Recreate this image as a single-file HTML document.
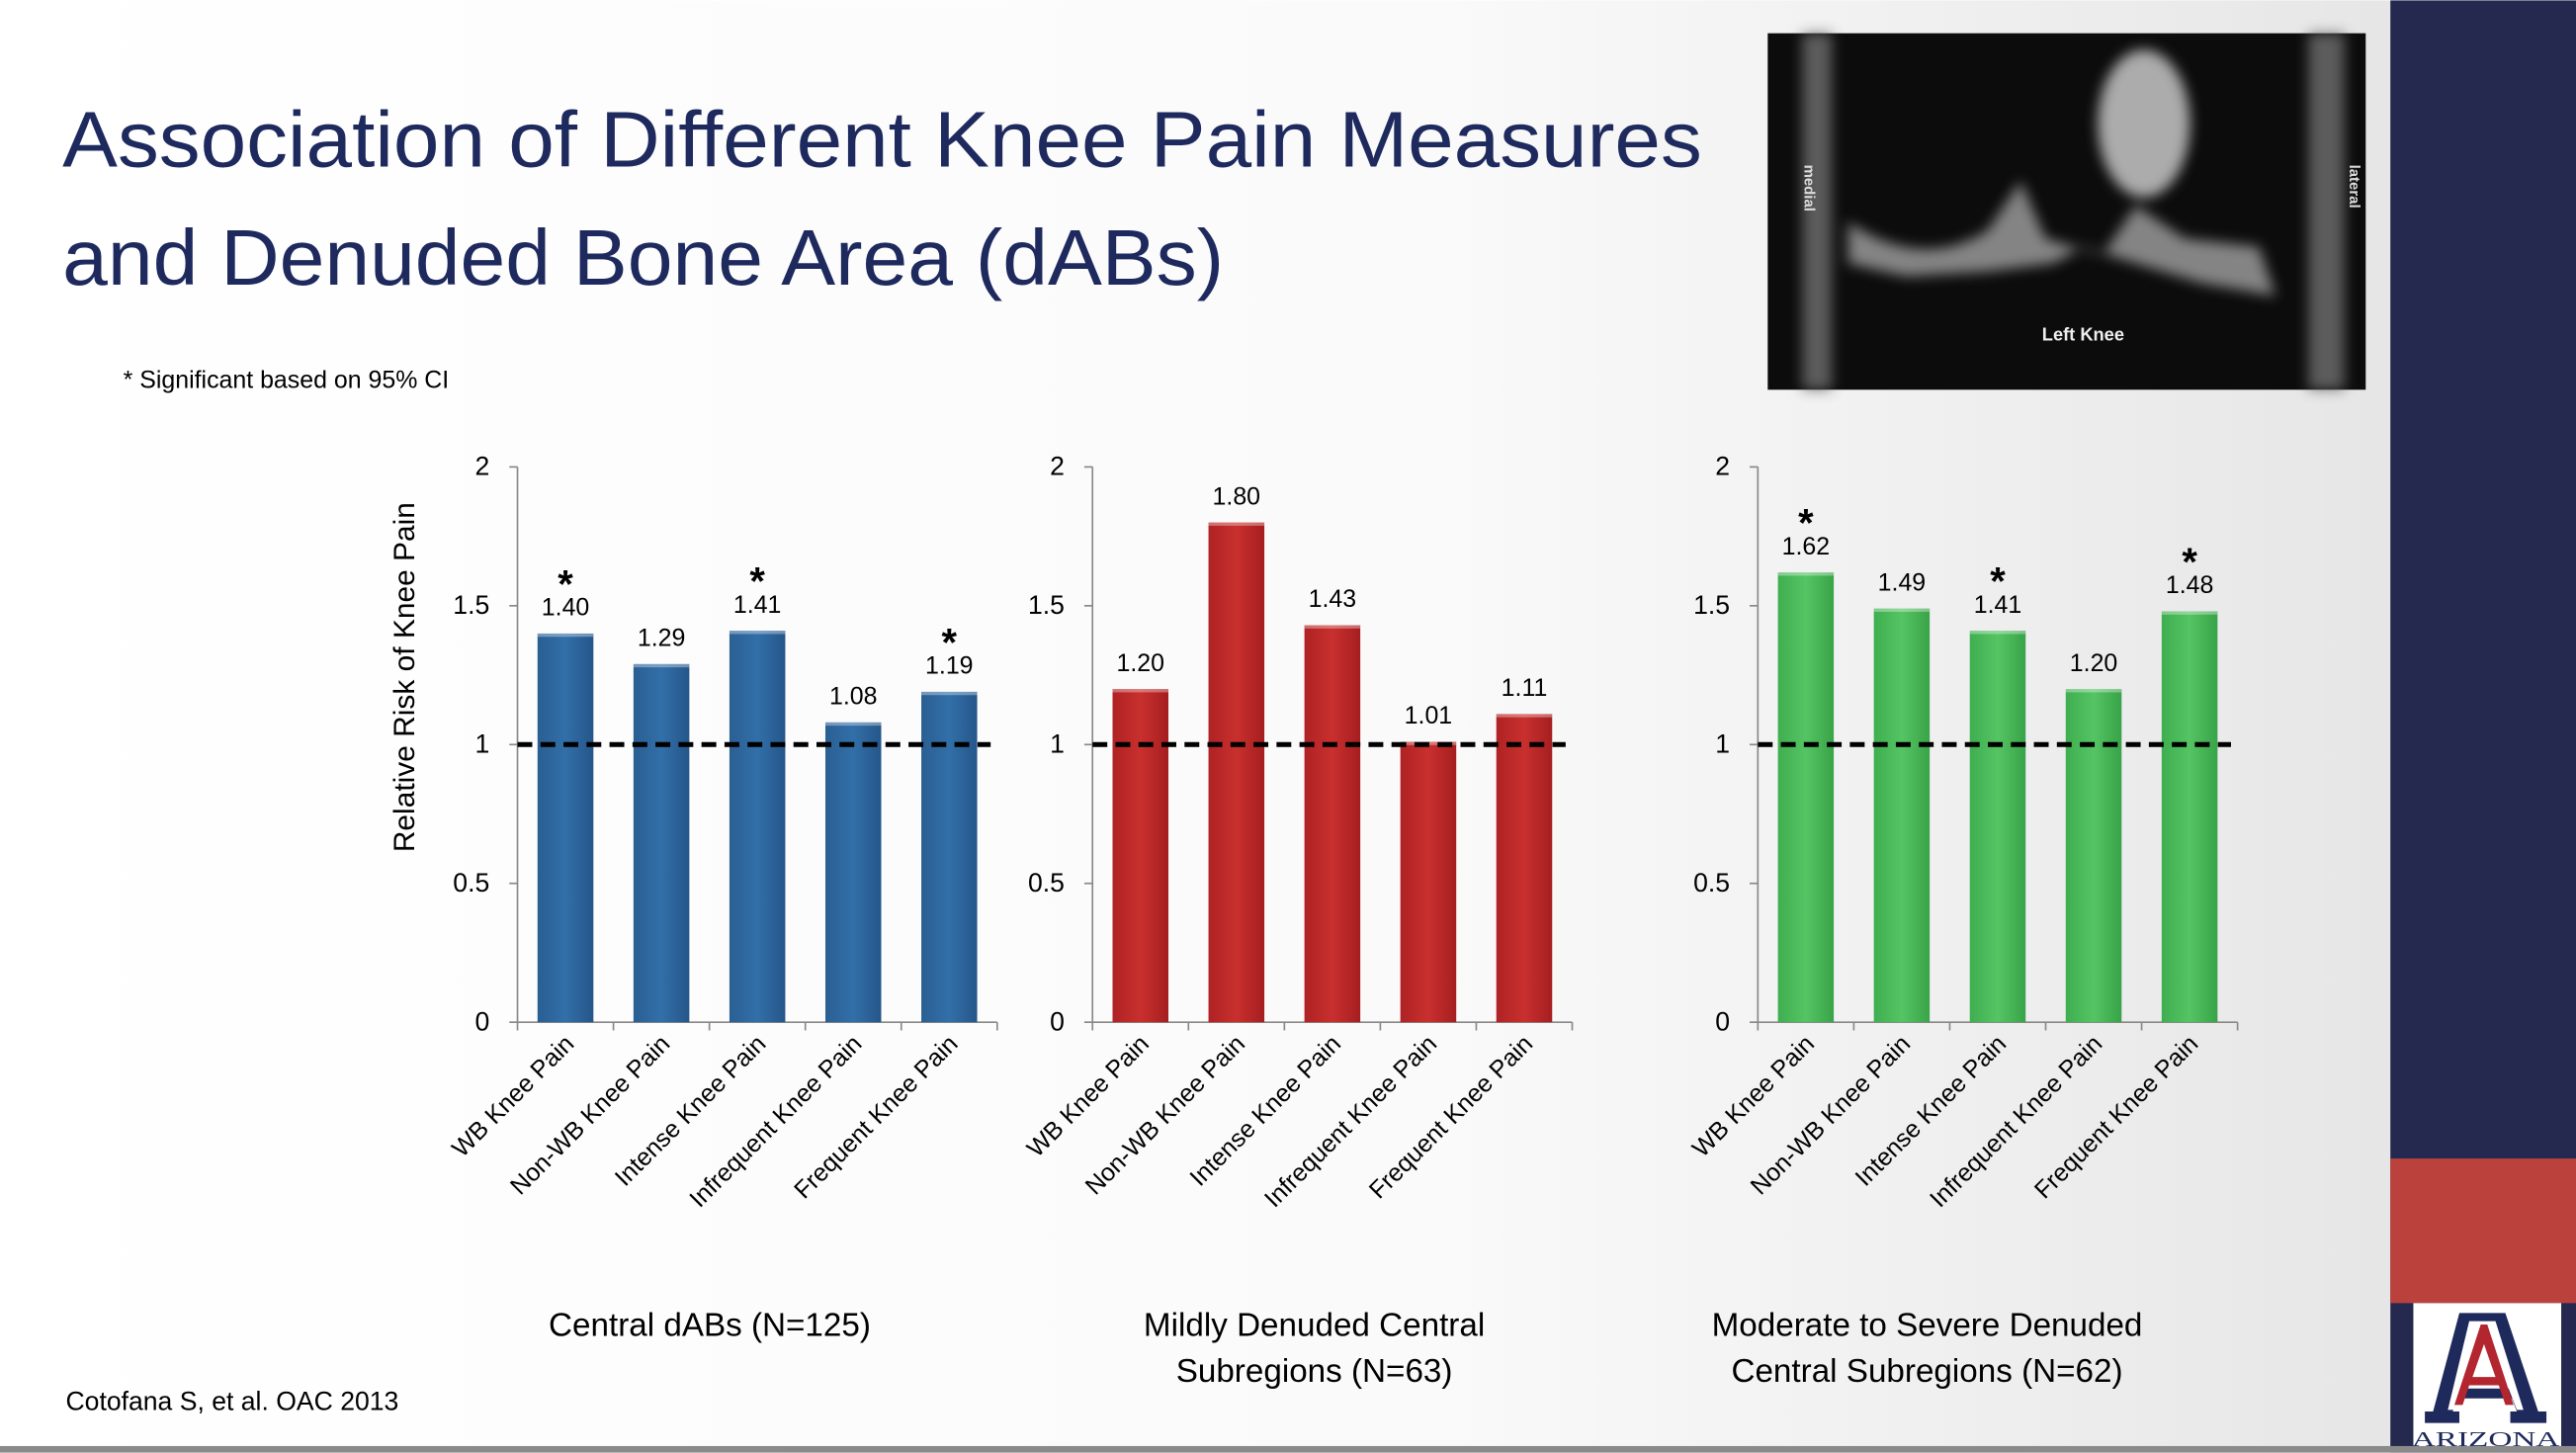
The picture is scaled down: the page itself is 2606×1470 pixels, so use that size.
<!DOCTYPE html>
<html><head><meta charset="utf-8"><style>
html,body{margin:0;padding:0;width:2606px;height:1470px;overflow:hidden;}
svg{display:block;font-family:"Liberation Sans",sans-serif;}
</style></head><body>
<svg id="page" width="2606" height="1470" viewBox="0 0 1568 884" xmlns="http://www.w3.org/2000/svg">
<defs>
<linearGradient id="bg" x1="0" y1="0" x2="1" y2="0"><stop offset="0" stop-color="#ffffff"/><stop offset="0.6" stop-color="#fafafa"/><stop offset="1" stop-color="#e6e6e6"/></linearGradient>
<linearGradient id="gblue" x1="0" x2="1"><stop offset="0" stop-color="#2a5f93"/><stop offset="0.5" stop-color="#326fa8"/><stop offset="1" stop-color="#25568a"/></linearGradient>
<linearGradient id="gred" x1="0" x2="1"><stop offset="0" stop-color="#b02224"/><stop offset="0.5" stop-color="#c8302e"/><stop offset="1" stop-color="#a61e20"/></linearGradient>
<linearGradient id="ggreen" x1="0" x2="1"><stop offset="0" stop-color="#3fae50"/><stop offset="0.5" stop-color="#55c463"/><stop offset="1" stop-color="#38a348"/></linearGradient>
<filter id="blur"><feGaussianBlur stdDeviation="4"/></filter>
</defs>
<rect x="0" y="0" width="1455" height="884" fill="url(#bg)"/>
<rect x="1455" y="0" width="113" height="884" fill="#25284f"/>
<rect x="1455" y="705" width="113" height="88" fill="#bb423c"/>
<g>
<rect x="1469" y="793" width="90" height="88" fill="#ffffff"/>
<polygon points="1497,799 1525,799 1545,859 1550,859 1550,866 1528,866 1528,859 1532,859 1529,851 1496,851 1493,859 1497,859 1497,866 1476,866 1476,859 1481,859" fill="#1f2a5c"/>
<polygon points="1503,804 1519,804 1536,858 1532,858 1527,845 1499,845 1494,858 1490,858" fill="#ffffff"/>
<polygon points="1510,806 1514,806 1530,855 1525,855 1521,843 1503,843 1499,855 1494,855" fill="#b3262f"/>
<polygon points="1512,818 1519,838 1505,838" fill="#ffffff"/>
<text x="1468" y="880" font-family="Liberation Serif,serif" font-size="13" fill="#1f2a5c" textLength="90" lengthAdjust="spacingAndGlyphs">ARIZONA</text>
</g>
<rect x="0" y="880" width="1568" height="4" fill="#8a8a8a"/>
<g>
<rect x="1076" y="20" width="364" height="217" fill="#0c0c0c"/>
<g filter="url(#blur)" opacity="0.85">
<path d="M1125,135 Q1170,165 1210,140 L1230,110 L1245,145 L1280,155 L1300,125 L1330,145 L1375,150 L1385,180 L1340,172 L1300,160 L1268,150 L1250,160 L1210,165 L1160,168 L1125,160 Z" fill="#9a9a9a"/>
<ellipse cx="1305" cy="75" rx="28" ry="45" fill="#c8c8c8"/>
<rect x="1097" y="20" width="18" height="217" fill="#6a6a6a"/>
<rect x="1405" y="20" width="22" height="217" fill="#6a6a6a"/>
</g>
<text x="1101" y="100" font-size="9" font-weight="bold" fill="#ddd" writing-mode="tb">medial</text>
<text x="1433" y="100" font-size="9" font-weight="bold" fill="#ddd" writing-mode="tb">lateral</text>
<text x="1268" y="207" font-size="11" font-weight="bold" fill="#eee" text-anchor="middle">Left Knee</text>
</g>
<text fill="#1e2a5e" font-size="48">
<tspan x="38" y="101" textLength="998" lengthAdjust="spacingAndGlyphs">Association of Different  Knee Pain Measures</tspan>
<tspan x="38" y="173" textLength="707" lengthAdjust="spacingAndGlyphs">and Denuded Bone Area (dABs)</tspan>
</text>
<text x="75" y="236" font-size="15" fill="#000">* Significant based on 95% CI</text>
<text x="40" y="858" font-size="16" fill="#000">Cotofana S, et al. OAC 2013</text>
<text transform="translate(252,412) rotate(-90)" font-size="18" text-anchor="middle" fill="#000">Relative Risk of Knee Pain</text>
<g id="charts"></g>
</svg>
<script>
const categories = ["WB Knee Pain","Non-WB Knee Pain","Intense Knee Pain","Infrequent Knee Pain","Frequent Knee Pain"];
const centralValues = [1.40,1.29,1.41,1.08,1.19];
const centralSig = [1,0,1,0,1];
const mildValues = [1.20,1.80,1.43,1.01,1.11];
const mildSig = [0,0,0,0,0];
const severeValues = [1.62,1.49,1.41,1.20,1.48];
const severeSig = [1,0,1,0,1];
const yTicks = [0,0.5,1,1.5,2];
const tickLabels = ["0","0.5","1","1.5","2"];
const referenceValue = 1;

const NS="http://www.w3.org/2000/svg";
const root=document.getElementById('charts');
function mk(tag,attrs,parent,text){const e=document.createElementNS(NS,tag);for(const k in attrs)e.setAttribute(k,attrs[k]);if(text!==undefined)e.textContent=text;parent.appendChild(e);return e;}
const panels=[
 {x0:315,vals:centralValues,sig:centralSig,fill:'url(#gblue)',name:'central',capX:432,cap:["Central dABs (N=125)"]},
 {x0:665,vals:mildValues,sig:mildSig,fill:'url(#gred)',name:'mild',capX:800,cap:["Mildly Denuded Central","Subregions (N=63)"]},
 {x0:1070,vals:severeValues,sig:severeSig,fill:'url(#ggreen)',name:'severe',capX:1173,cap:["Moderate to Severe Denuded","Central Subregions (N=62)"]}
];
const yTop=284,yBot=622,yMax=2,slot=58.4,barW=34;
function yS(v){return yBot-(v/yMax)*(yBot-yTop);}
panels.forEach(p=>{
 const g=mk('g',{},root);
 
 
 const xS=i=>p.x0+slot*(i+0.5);
 const xEnd=p.x0+slot*categories.length;
 const ax=mk('line',{x1:p.x0,y1:yTop,x2:p.x0,y2:yBot,stroke:'#888','stroke-width':1},g);
 
 
 const xa=mk('line',{x1:p.x0,y1:yBot,x2:xEnd,y2:yBot,stroke:'#888','stroke-width':1},g);
 
 
 yTicks.forEach((t,i)=>{
  mk('line',{x1:p.x0-5,y1:yS(t),x2:p.x0,y2:yS(t),stroke:'#888'},g);
  const tl=mk('text',{x:p.x0-17,y:yS(t)+5,'font-size':16,'text-anchor':'end',fill:'#000'},g,tickLabels[i]);
  
  
 });
 for(let i=0;i<=categories.length;i++) mk('line',{x1:p.x0+slot*i,y1:yBot,x2:p.x0+slot*i,y2:yBot+5,stroke:'#888'},g);
 p.vals.forEach((v,i)=>{
  const cx=xS(i), top=yS(v);
  const b=mk('rect',{x:cx-barW/2,y:top,width:barW,height:yBot-top,fill:p.fill},g);
  
  
  mk('rect',{x:cx-barW/2,y:top,width:barW,height:2,fill:'rgba(255,255,255,0.35)'},g);
  const lab=mk('text',{x:cx,y:top-11,'font-size':15,'text-anchor':'middle',fill:'#000'},g,v.toFixed(2));
  
  
  if(p.sig[i]){
   const s=mk('text',{x:cx,y:top-22,'font-size':24,'font-weight':'bold','text-anchor':'middle',fill:'#000'},g,'*');
   
   
  }
  const cl=mk('text',{transform:`translate(${cx+6},${yBot+14}) rotate(-45)`,'font-size':15,'text-anchor':'end',fill:'#000'},g,categories[i]);
  
  
 });
 const rl=mk('line',{x1:p.x0,y1:yS(referenceValue),x2:xEnd-4,y2:yS(referenceValue),stroke:'#000','stroke-width':3,'stroke-dasharray':'9,5'},g);
 
 
 const cap=mk('text',{'font-size':20,'text-anchor':'middle',fill:'#000'},g);
 
 
 p.cap.forEach((c,j)=>mk('tspan',{x:p.capX,y:813+j*28},cap,c));
});
</script>
</body></html>
